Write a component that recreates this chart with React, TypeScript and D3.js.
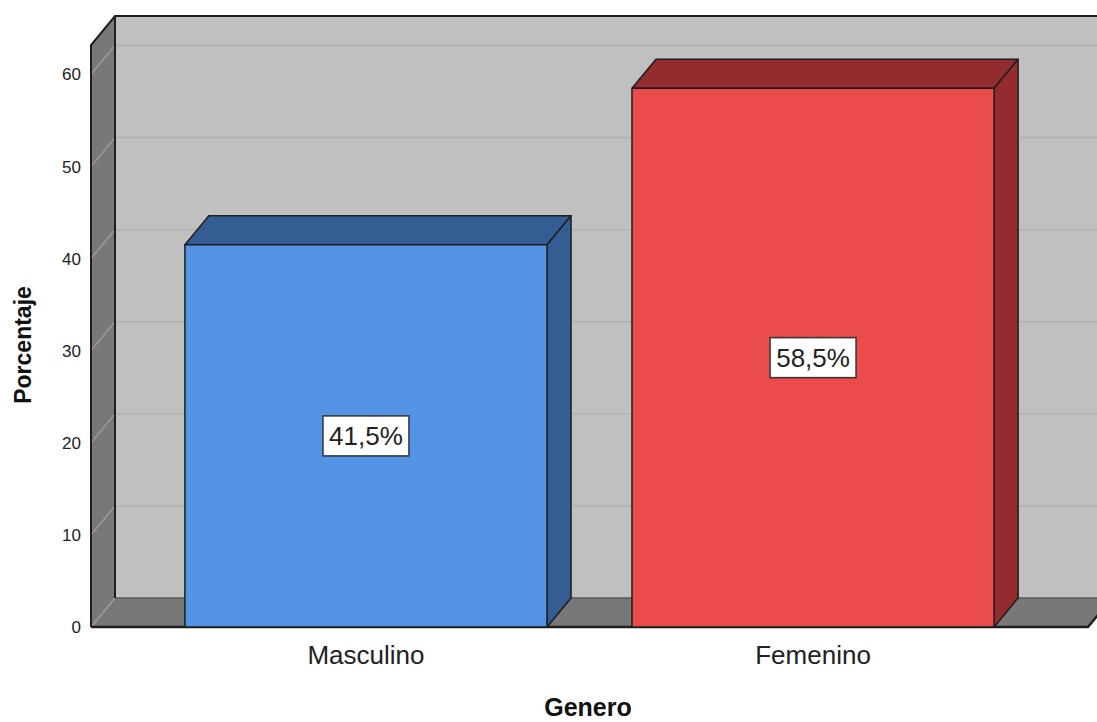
import React from "react";
import { scaleLinear, scaleBand } from "d3";

// data
const categories = ["Masculino", "Femenino"];
const percentages = [41.5, 58.5];
const valueLabels = ["41,5%", "58,5%"];
const yTicks = [0, 10, 20, 30, 40, 50, 60];

const frontColors = ["#5394e4", "#ec4b4c"];
const shadeColors = ["#345d93", "#922c2e"];

const W = 1097;
const H = 722;
// 3D depth offset of the chart box
const DX = 24;
const DY = -29;

export default function App() {
  const y = scaleLinear().domain([0, 63.2]).range([627, 45]);
  const x = scaleBand()
    .domain(categories)
    .range([91, 1088])
    .paddingInner(0.19)
    .paddingOuter(0.21);

  const y0 = y(0);
  const yTop = y(63.2);
  const left = x.range()[0];
  const right = x.range()[1];
  const pts = (a: number[][]) => a.map(p => p.join(",")).join(" ");
  const stroke = "#1e1e1e";

  return (
    <svg
      width={W}
      height={H}
      style={{ position: "absolute", left: 0, top: 0, fontFamily: "'Liberation Sans', Arial, sans-serif" }}
    >
      <rect width={W} height={H} fill="#fff" />

      {/* back wall */}
      <rect x={left + DX} y={yTop + DY} width={W - left} height={y0 - yTop} fill="#c0c0c0" />
      {/* left wall */}
      <polygon
        points={pts([[left, yTop], [left + DX, yTop + DY], [left + DX, y0 + DY], [left, y0]])}
        fill="#787878"
      />
      {/* gridlines on back wall and left wall */}
      {yTicks.filter(t => t > 0).map(t => (
        <g key={t}>
          <line x1={left + DX} x2={W} y1={y(t) + DY} y2={y(t) + DY} stroke="#b1b1b1" strokeWidth={1.5} />
          <line x1={left} x2={left + DX} y1={y(t)} y2={y(t) + DY} stroke="#a2a2a2" strokeWidth={1.2} />
        </g>
      ))}
      {/* floor */}
      <polygon
        points={pts([[left, y0], [right, y0], [right + DX, y0 + DY], [left + DX, y0 + DY]])}
        fill="#787878"
      />
      <line x1={left} x2={left + DX} y1={y0} y2={y0 + DY} stroke="#a2a2a2" strokeWidth={1.2} />
      <line x1={left + DX} x2={W} y1={y0 + DY} y2={y0 + DY} stroke="#5a5a5a" strokeWidth={1.5} />

      {/* frame edges */}
      <polyline
        points={pts([[left, y0], [left, yTop], [left + DX, yTop + DY], [W, yTop + DY]])}
        fill="none"
        stroke={stroke}
        strokeWidth={2}
      />
      <line x1={left + DX} x2={left + DX} y1={yTop + DY} y2={y0 + DY} stroke={stroke} strokeWidth={2} />
      <polyline
        points={pts([[left, y0], [right, y0], [right + DX, y0 + DY]])}
        fill="none"
        stroke={stroke}
        strokeWidth={2.5}
      />

      {/* bars */}
      {categories.map((c, i) => {
        const bx = x(c) as number;
        const bw = x.bandwidth();
        const by = y(percentages[i]);
        return (
          <g key={c} stroke={stroke} strokeWidth={1.5} strokeLinejoin="round">
            <polygon
              points={pts([[bx, by], [bx + bw, by], [bx + bw + DX, by + DY], [bx + DX, by + DY]])}
              fill={shadeColors[i]}
            />
            <polygon
              points={pts([[bx + bw, by], [bx + bw + DX, by + DY], [bx + bw + DX, y0 + DY], [bx + bw, y0]])}
              fill={shadeColors[i]}
            />
            <rect x={bx} y={by} width={bw} height={y0 - by} fill={frontColors[i]} />
          </g>
        );
      })}

      {/* value labels */}
      {categories.map((c, i) => {
        const cx = (x(c) as number) + x.bandwidth() / 2;
        const cy = (y(percentages[i]) + y0) / 2;
        return (
          <g key={c}>
            <rect x={cx - 43} y={cy - 20} width={86} height={40} fill="#fff" stroke="#333" strokeWidth={1.5} />
            <text x={cx} y={cy + 9} textAnchor="middle" fontSize={26} fill="#222">
              {valueLabels[i]}
            </text>
          </g>
        );
      })}

      {/* y axis tick labels */}
      {yTicks.map(t => (
        <text key={t} x={81} y={y(t) + 6} textAnchor="end" fontSize={17} fill="#222">
          {t}
        </text>
      ))}

      {/* category labels */}
      {categories.map(c => (
        <text key={c} x={(x(c) as number) + x.bandwidth() / 2} y={664} textAnchor="middle" fontSize={26} fill="#222">
          {c}
        </text>
      ))}

      {/* axis titles */}
      <text x={588} y={716} textAnchor="middle" fontSize={25} fontWeight="bold" fill="#111">
        Genero
      </text>
      <text
        transform={`translate(31,345) rotate(-90)`}
        textAnchor="middle"
        fontSize={23}
        fontWeight="bold"
        fill="#111"
      >
        Porcentaje
      </text>
    </svg>
  );
}
